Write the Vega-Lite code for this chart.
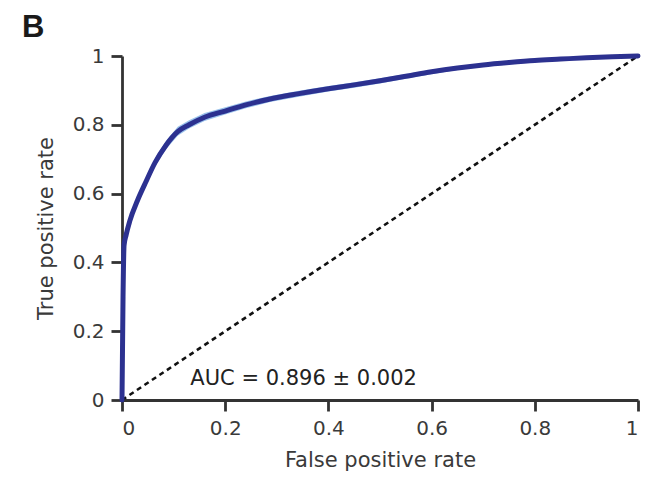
{
  "$schema": "https://vega.github.io/schema/vega-lite/v6.json",
  "width": 516,
  "height": 344,
  "autosize": {"type": "none"},
  "padding": {"left": 122, "top": 56, "right": 8, "bottom": 77},
  "background": "white",
  "config": {
    "font": "DejaVu Sans",
    "view": {"stroke": null},
    "axis": {
      "grid": false,
      "domainColor": "#333333",
      "domainWidth": 2.8,
      "tickColor": "#333333",
      "tickWidth": 2.8,
      "tickSize": 11,
      "labelFontSize": 20,
      "labelColor": "#3a3a3a",
      "titleFontSize": 21,
      "titleFontWeight": "normal",
      "titleColor": "#3a3a3a",
      "labelFont": "DejaVu Sans",
      "titleFont": "DejaVu Sans"
    }
  },
  "title": {
    "text": "B",
    "anchor": "start",
    "frame": "group",
    "dx": -100,
    "offset": 2,
    "fontSize": 31,
    "fontWeight": "bold",
    "color": "#1a1a1a",
    "font": "Liberation Sans"
  },
  "datasets": {
    "roc": [
      {"fpr": 0, "tpr": 0, "lo": 0, "hi": 0},
      {"fpr": 0.002, "tpr": 0.30, "lo": 0.29, "hi": 0.31},
      {"fpr": 0.004, "tpr": 0.45, "lo": 0.44, "hi": 0.46},
      {"fpr": 0.008, "tpr": 0.48, "lo": 0.47, "hi": 0.49},
      {"fpr": 0.015, "tpr": 0.52, "lo": 0.51, "hi": 0.53},
      {"fpr": 0.03, "tpr": 0.58, "lo": 0.57, "hi": 0.59},
      {"fpr": 0.045, "tpr": 0.63, "lo": 0.62, "hi": 0.641},
      {"fpr": 0.064, "tpr": 0.69, "lo": 0.679, "hi": 0.702},
      {"fpr": 0.085, "tpr": 0.74, "lo": 0.728, "hi": 0.753},
      {"fpr": 0.108, "tpr": 0.78, "lo": 0.768, "hi": 0.794},
      {"fpr": 0.13, "tpr": 0.80, "lo": 0.789, "hi": 0.813},
      {"fpr": 0.16, "tpr": 0.822, "lo": 0.811, "hi": 0.834},
      {"fpr": 0.2, "tpr": 0.84, "lo": 0.83, "hi": 0.851},
      {"fpr": 0.24, "tpr": 0.858, "lo": 0.848, "hi": 0.868},
      {"fpr": 0.287, "tpr": 0.875, "lo": 0.866, "hi": 0.884},
      {"fpr": 0.34, "tpr": 0.89, "lo": 0.881, "hi": 0.898},
      {"fpr": 0.4, "tpr": 0.905, "lo": 0.897, "hi": 0.913},
      {"fpr": 0.45, "tpr": 0.916, "lo": 0.908, "hi": 0.924},
      {"fpr": 0.5, "tpr": 0.928, "lo": 0.92, "hi": 0.935},
      {"fpr": 0.55, "tpr": 0.941, "lo": 0.934, "hi": 0.948},
      {"fpr": 0.6, "tpr": 0.954, "lo": 0.947, "hi": 0.96},
      {"fpr": 0.65, "tpr": 0.965, "lo": 0.959, "hi": 0.97},
      {"fpr": 0.7, "tpr": 0.974, "lo": 0.969, "hi": 0.979},
      {"fpr": 0.75, "tpr": 0.981, "lo": 0.977, "hi": 0.985},
      {"fpr": 0.8, "tpr": 0.987, "lo": 0.984, "hi": 0.99},
      {"fpr": 0.85, "tpr": 0.991, "lo": 0.989, "hi": 0.994},
      {"fpr": 0.9, "tpr": 0.995, "lo": 0.993, "hi": 0.997},
      {"fpr": 0.95, "tpr": 0.998, "lo": 0.997, "hi": 0.999},
      {"fpr": 1, "tpr": 1, "lo": 1, "hi": 1}
    ],
    "diag": [
      {"fpr": 0, "tpr": 0},
      {"fpr": 1, "tpr": 1}
    ],
    "note": [
      {"fpr": 0.352, "tpr": 0.06, "label": "AUC = 0.896 ± 0.002"}
    ]
  },
  "layer": [
    {
      "data": {"name": "diag"},
      "mark": {"type": "line", "color": "#111111", "strokeWidth": 2.6, "strokeDash": [5, 4], "clip": false},
      "encoding": {
        "x": {
          "field": "fpr", "type": "quantitative",
          "scale": {"domain": [0, 1], "nice": false},
          "axis": {"title": "False positive rate", "values": [0, 0.2, 0.4, 0.6, 0.8, 1], "format": "~g", "labelPadding": 7, "titlePadding": 11}
        },
        "y": {
          "field": "tpr", "type": "quantitative",
          "scale": {"domain": [0, 1], "nice": false},
          "axis": {"title": "True positive rate", "values": [0, 0.2, 0.4, 0.6, 0.8, 1], "format": "~g", "labelPadding": 7, "titlePadding": 16}
        }
      }
    },
    {
      "data": {"name": "roc"},
      "mark": {"type": "area", "color": "#7fb2e5", "opacity": 0.8},
      "encoding": {
        "x": {"field": "fpr", "type": "quantitative"},
        "y": {"field": "lo", "type": "quantitative"},
        "y2": {"field": "hi"}
      }
    },
    {
      "data": {"name": "roc"},
      "mark": {"type": "line", "color": "#2c3190", "strokeWidth": 5, "strokeJoin": "round", "strokeCap": "round", "interpolate": "monotone"},
      "encoding": {
        "x": {"field": "fpr", "type": "quantitative"},
        "y": {"field": "tpr", "type": "quantitative"}
      }
    },
    {
      "data": {"name": "note"},
      "mark": {"type": "text", "fontSize": 21, "color": "#222222", "font": "DejaVu Sans", "align": "center", "baseline": "middle"},
      "encoding": {
        "x": {"field": "fpr", "type": "quantitative"},
        "y": {"field": "tpr", "type": "quantitative"},
        "text": {"field": "label"}
      }
    }
  ]
}
